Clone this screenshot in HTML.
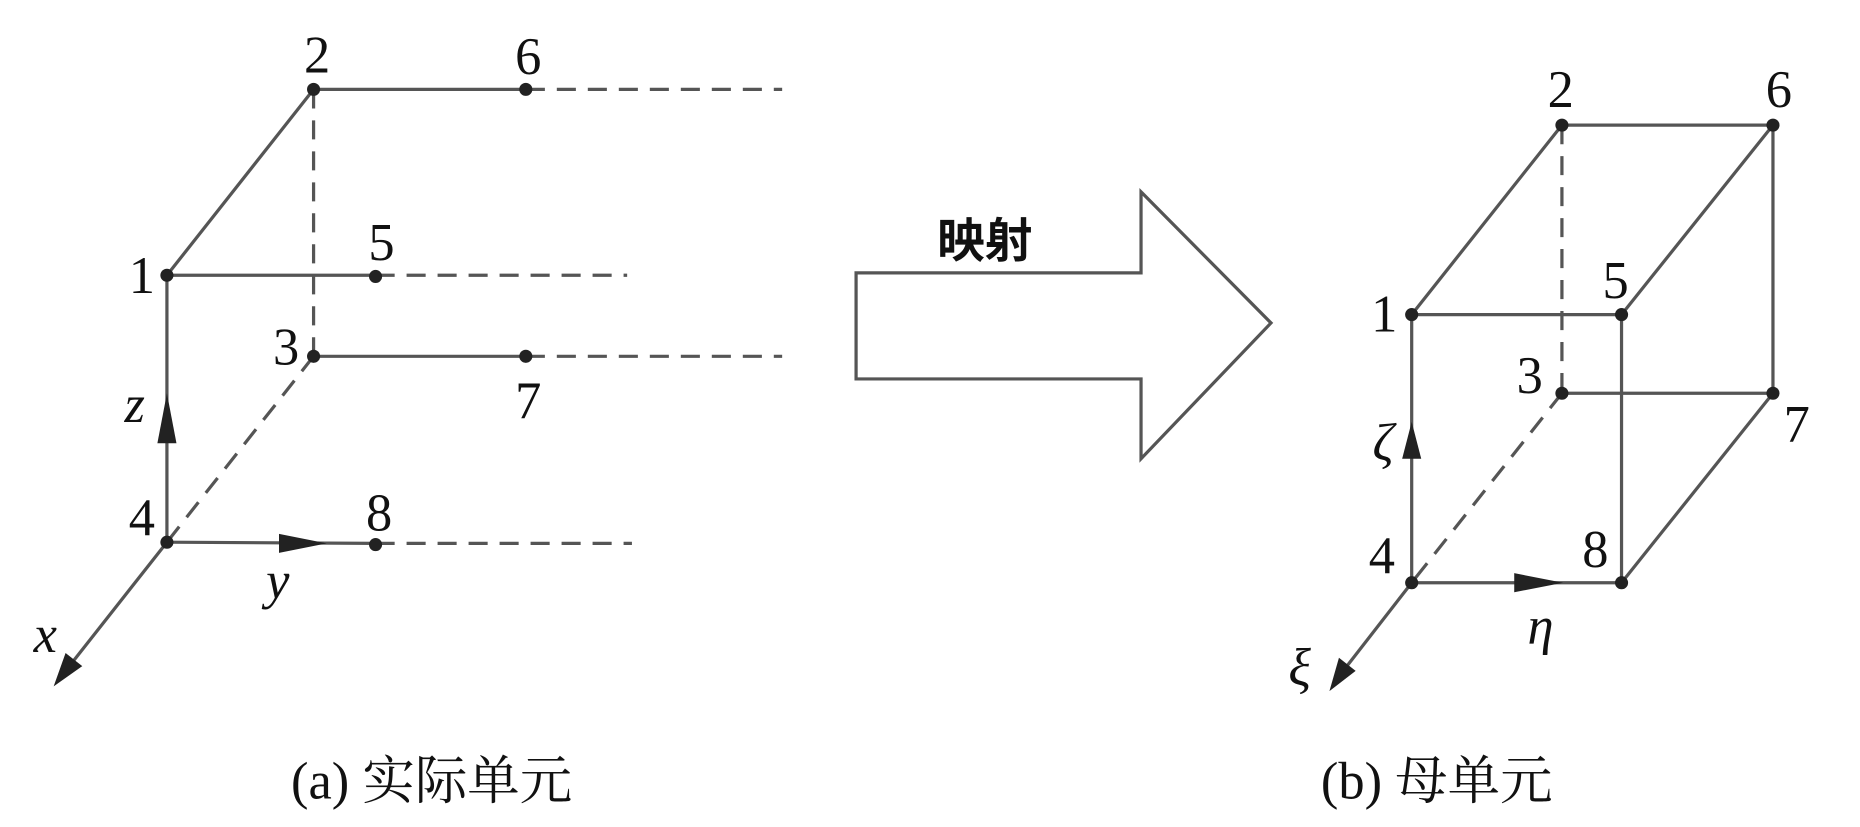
<!DOCTYPE html>
<html><head><meta charset="utf-8"><style>
html,body{margin:0;padding:0;background:#fff;}
svg{display:block;}
text{font-family:"Liberation Serif","Noto Serif CJK SC",serif;fill:#111;}
</style></head><body>
<svg width="1860" height="827" viewBox="0 0 1560 694" preserveAspectRatio="none" xmlns="http://www.w3.org/2000/svg">
<g stroke="#555" stroke-width="2.7" fill="none">
<line x1="140" y1="231" x2="263" y2="75"/>
<line x1="263" y1="75" x2="441" y2="75"/>
<line x1="140" y1="231" x2="315" y2="231"/>
<line x1="263" y1="299" x2="441" y2="299"/>
<line x1="140" y1="455" x2="140" y2="231"/>
<line x1="140" y1="455" x2="315" y2="456"/>
<line x1="140" y1="455" x2="55" y2="563"/>
<g stroke-dasharray="16,10">
<line x1="263" y1="75" x2="263" y2="299"/>
<line x1="263" y1="299" x2="140" y2="455"/>
<line x1="441" y1="75" x2="656" y2="75"/>
<line x1="315" y1="231" x2="526" y2="231"/>
<line x1="441" y1="299" x2="656" y2="299"/>
<line x1="315" y1="456" x2="530" y2="456"/>
</g>
<line x1="1184" y1="264" x2="1310" y2="105"/>
<line x1="1310" y1="105" x2="1487" y2="105"/>
<line x1="1184" y1="264" x2="1360" y2="264"/>
<line x1="1360" y1="264" x2="1487" y2="105"/>
<line x1="1487" y1="105" x2="1487" y2="330"/>
<line x1="1310" y1="330" x2="1487" y2="330"/>
<line x1="1360" y1="264" x2="1360" y2="489"/>
<line x1="1184" y1="264" x2="1184" y2="489"/>
<line x1="1184" y1="489" x2="1360" y2="489"/>
<line x1="1360" y1="489" x2="1487" y2="330"/>
<line x1="1184" y1="489" x2="1125" y2="565"/>
<g stroke-dasharray="16,10">
<line x1="1310" y1="105" x2="1310" y2="330"/>
<line x1="1310" y1="330" x2="1184" y2="489"/>
</g>
<polygon points="718,229 957,229 957,161 1066,271 957,385 957,318 718,318"/>
</g>
<g fill="#222">
<polygon points="140,330 132,372 148,372"/>
<polygon points="274,456 234,448 234,464"/>
<polygon points="45,576 55,548 69,559"/>
<polygon points="1184,354 1176,385 1192,385"/>
<polygon points="1311,489 1270,481 1270,497"/>
<polygon points="1115,580 1123,552 1137,563"/>
</g>
<g fill="#222">
<circle cx="140" cy="231" r="5.5"/><circle cx="263" cy="75" r="5.5"/><circle cx="263" cy="299" r="5.5"/>
<circle cx="140" cy="455" r="5.5"/><circle cx="315" cy="232" r="5.5"/><circle cx="441" cy="75" r="5.5"/>
<circle cx="441" cy="299" r="5.5"/><circle cx="315" cy="457" r="5.5"/>
<circle cx="1184" cy="264" r="5.5"/><circle cx="1310" cy="105" r="5.5"/><circle cx="1310" cy="330" r="5.5"/>
<circle cx="1184" cy="489" r="5.5"/><circle cx="1360" cy="264" r="5.5"/><circle cx="1487" cy="105" r="5.5"/>
<circle cx="1487" cy="330" r="5.5"/><circle cx="1360" cy="489" r="5.5"/>
</g>
<g font-size="44" text-anchor="middle">
<text x="266" y="61">2</text><text x="443" y="62">6</text>
<text x="119" y="246">1</text><text x="320" y="218">5</text>
<text x="240" y="306">3</text><text x="443" y="351">7</text>
<text x="119" y="449">4</text><text x="318" y="445">8</text>
<text x="1309" y="90">2</text><text x="1492" y="90">6</text>
<text x="1161" y="278">1</text><text x="1355" y="250">5</text>
<text x="1283" y="330">3</text><text x="1507" y="371">7</text>
<text x="1159" y="481">4</text><text x="1338" y="476">8</text>
<g font-style="italic">
<text x="113" y="354">z</text><text x="233" y="502">y</text><text x="38" y="547">x</text>
<text x="1160" y="386">ζ</text><text x="1292" y="540">η</text><text x="1090" y="575">ξ</text>
</g>
<text x="362" y="670">(a) 实际单元</text>
<text x="1205" y="670">(b) 母单元</text>
</g>
<text x="826" y="216" font-size="40" text-anchor="middle" style="font-family:'Noto Sans CJK SC',sans-serif;font-weight:bold">映射</text>
</svg>
</body></html>
